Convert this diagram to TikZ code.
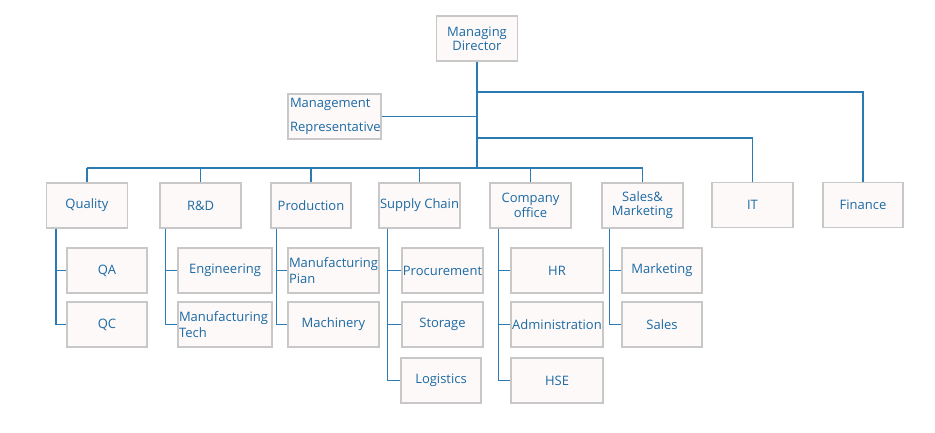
\documentclass[tikz,border=0pt]{standalone}
\usepackage{fontspec}
\setmainfont{Open Sans}
\usetikzlibrary{calc}
\definecolor{txtblue}{HTML}{1C6AA3}
\definecolor{lineblue}{HTML}{2A7AB4}
\definecolor{boxgray}{HTML}{C8C8C8}
\definecolor{boxfill}{HTML}{FDF9F9}
\tikzset{
  ubox/.style={draw=boxgray, line width=1.2pt, fill=boxfill, inner sep=1pt,
    minimum height=45pt, text=txtblue, font=\fontsize{13}{15.5}\selectfont, align=center},
  conn/.style={draw=lineblue, line width=1.4pt},
}
\begin{document}
\begin{tikzpicture}[x=1pt,y=-1pt]
\useasboundingbox (0,0) rectangle (935,433);
% top
\node[ubox, minimum width=81pt, font=\fontsize{13}{14}\selectfont] (MD) at (477,38.5) {Managing\\Director};
\node[ubox, minimum width=93pt, align=left, text width=89pt, font=\fontsize{13}{24}\selectfont] (MR) at (334.5,116.5) {Management\\Representative};
% level 1
\node[ubox, minimum width=81pt] (Q) at (87,205.5) {Quality};
\node[ubox, minimum width=81pt] (RD) at (200.5,205.5) {R\&D};
\node[ubox, minimum width=80pt] (P) at (311,205.5) {Production};
\node[ubox, minimum width=81pt] (SC) at (419.5,205.5) {Supply Chain};
\node[ubox, minimum width=81pt] (CO) at (530.5,205.5) {Company\\office};
\node[ubox, minimum width=81pt, font=\fontsize{13}{14}\selectfont] (SM) at (642.5,205.5) {Sales\&\\Marketing};
\node[ubox, minimum width=81pt] (IT) at (752.5,205) {IT};
\node[ubox, minimum width=80pt] (FI) at (863,205) {Finance};
% level 2
\node[ubox, minimum width=80pt] (QA) at (107,270.5) {QA};
\node[ubox, minimum width=80pt] (QC) at (107,324.5) {QC};
\node[ubox, minimum width=94pt] (EN) at (225,270.5) {Engineering};
\node[ubox, minimum width=94pt, align=left, text width=92pt] (MT) at (225,324.5) {Manufacturing\\Tech};
\node[ubox, minimum width=91pt, align=left, text width=89pt] (MP) at (333.5,270.5) {Manufacturing\\Pian};
\node[ubox, minimum width=91pt] (MA) at (333.5,324.5) {Machinery};
\node[ubox, minimum width=81pt] (PR) at (442.5,270.5) {Procurement};
\node[ubox, minimum width=81pt] (ST) at (442.5,324.5) {Storage};
\node[ubox, minimum width=80pt] (LO) at (441,380.5) {Logistics};
\node[ubox, minimum width=92pt] (HR) at (557,270.5) {HR};
\node[ubox, minimum width=92pt] (AD) at (557,324.5) {Administration};
\node[ubox, minimum width=92pt] (HS) at (557,380.5) {HSE};
\node[ubox, minimum width=80pt] (MK) at (662,270.5) {Marketing};
\node[ubox, minimum width=80pt] (SA) at (662,324.5) {Sales};
% bus
\coordinate (bus) at (0,168);
\draw[conn] (MD.south) -- (MD.south |- bus);
\draw[conn] (Q.north |- bus) -- (SM.north |- bus);
\foreach \n in {Q,RD,P,SC,CO,SM} \draw[conn] (\n.north) -- (\n.north |- bus);
\draw[conn] (MR.east) -- (MR.east -| MD.south);
\draw[conn] (MD.south |- 0,92) -| (FI.north);
\draw[conn] (MD.south |- 0,138) -| (IT.north);
% child trunks
\coordinate (tq) at ($(Q.south west)+(10,0)$);
\coordinate (trd) at ($(RD.south west)+(6,0)$);
\coordinate (tp) at ($(P.south west)+(6,0)$);
\coordinate (tsc) at ($(SC.south west)+(9,0)$);
\coordinate (tco) at ($(CO.south west)+(9,0)$);
\coordinate (tsm) at ($(SM.south west)+(8,0)$);
\draw[conn] (tq) |- (QC.west); \draw[conn] (tq |- QA.west) -- (QA.west);
\draw[conn] (trd) |- (MT.west); \draw[conn] (trd |- EN.west) -- (EN.west);
\draw[conn] (tp) |- (MA.west); \draw[conn] (tp |- MP.west) -- (MP.west);
\draw[conn] (tsc) |- (LO.west); \draw[conn] (tsc |- PR.west) -- (PR.west); \draw[conn] (tsc |- ST.west) -- (ST.west);
\draw[conn] (tco) |- (HS.west); \draw[conn] (tco |- HR.west) -- (HR.west); \draw[conn] (tco |- AD.west) -- (AD.west);
\draw[conn] (tsm) |- (SA.west); \draw[conn] (tsm |- MK.west) -- (MK.west);
\end{tikzpicture}
\end{document}
